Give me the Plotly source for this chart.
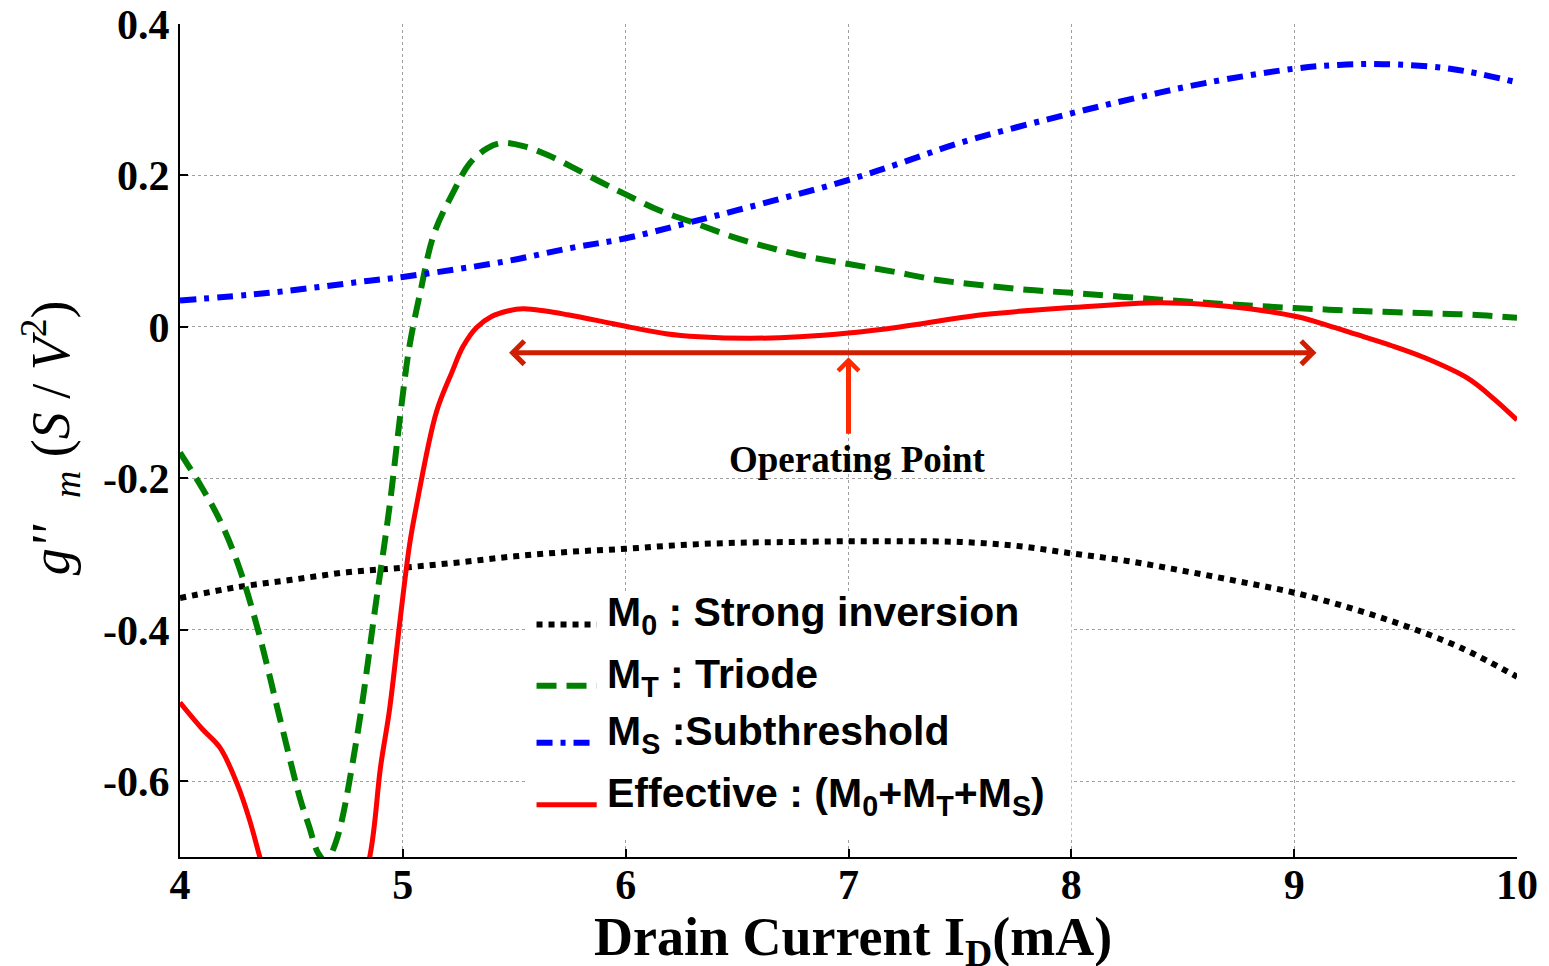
import plotly.graph_objects as go

# ---------------- data ----------------
m0_x = [4.0, 4.25, 4.5, 4.75, 5.0, 5.25, 5.5, 5.75, 6.0, 6.25, 6.5, 6.75, 7.0,
        7.25, 7.5, 7.75, 8.0, 8.25, 8.5, 8.75, 9.0, 9.25, 9.5, 9.75, 10.0]
m0_y = [-0.358, -0.344, -0.334, -0.324, -0.318, -0.311, -0.303, -0.297, -0.293,
        -0.288, -0.285, -0.284, -0.283, -0.283, -0.284, -0.289, -0.299, -0.309,
        -0.322, -0.336, -0.351, -0.371, -0.395, -0.424, -0.462]

mt_x = [4.0, 4.1, 4.18, 4.26, 4.35, 4.45, 4.54, 4.58, 4.62, 4.655, 4.70, 4.79,
        4.88, 4.94, 4.99, 5.03, 5.08, 5.14, 5.23, 5.30, 5.38, 5.45, 5.55, 5.65,
        5.76, 5.89, 6.0, 6.15, 6.33, 6.48, 6.63, 6.78, 7.0, 7.2, 7.4, 7.6, 7.8,
        8.0, 8.4, 8.7, 9.0, 9.3, 9.6, 9.8, 10.0]
mt_y = [-0.166, -0.213, -0.256, -0.313, -0.400, -0.519, -0.624, -0.660, -0.695,
        -0.705, -0.680, -0.549, -0.363, -0.238, -0.113, -0.025, 0.048, 0.123,
        0.180, 0.216, 0.236, 0.243, 0.238, 0.227, 0.211, 0.191, 0.175, 0.154,
        0.135, 0.119, 0.106, 0.095, 0.083, 0.073, 0.062, 0.055, 0.049, 0.045,
        0.036, 0.030, 0.025, 0.021, 0.018, 0.016, 0.012]

ms_x = [4.0, 4.4, 4.85, 5.0, 5.45, 5.75, 6.0, 6.3, 6.68, 7.0, 7.23, 7.5, 8.0,
        8.3, 8.6, 9.0, 9.2, 9.4, 9.7, 10.0]
ms_y = [0.035, 0.045, 0.061, 0.066, 0.086, 0.104, 0.117, 0.139, 0.168, 0.194,
        0.216, 0.243, 0.282, 0.303, 0.322, 0.341, 0.346, 0.347, 0.341, 0.323]

eff_x = [4.0, 4.1, 4.18, 4.26, 4.31, 4.36, 4.45, 4.6, 4.75, 4.85, 4.90, 4.94,
         4.99, 5.03, 5.06, 5.15, 5.22, 5.27, 5.33, 5.40, 5.47, 5.54, 5.64, 5.74,
         5.88, 6.03, 6.18, 6.33, 6.56, 6.78, 7.0, 7.23, 7.6, 8.02, 8.39, 8.59,
         8.8, 9.02, 9.15, 9.28, 9.43, 9.58, 9.78, 9.9, 10.0]
eff_y = [-0.496, -0.531, -0.556, -0.606, -0.649, -0.702, -0.80, -0.86, -0.80,
         -0.702, -0.581, -0.506, -0.381, -0.288, -0.238, -0.113, -0.060, -0.026,
         -0.001, 0.014, 0.021, 0.024, 0.021, 0.016, 0.008, -0.001, -0.009,
         -0.013, -0.015, -0.013, -0.008, 0.0, 0.016, 0.026, 0.032, 0.030, 0.024,
         0.013, 0.002, -0.010, -0.024, -0.040, -0.068, -0.096, -0.123]

x_ticks = [4, 5, 6, 7, 8, 9, 10]
x_ticktext = ["4", "5", "6", "7", "8", "9", "10"]
y_ticks = [-0.6, -0.4, -0.2, 0, 0.2, 0.4]
y_ticktext = ["-0.6", "-0.4", "-0.2", "0", "0.2", "0.4"]

legend_labels = [
    "M<sub>0</sub> : Strong inversion",
    "M<sub>T</sub> : Triode",
    "M<sub>S</sub> :Subthreshold",
    "Effective : (M<sub>0</sub>+M<sub>T</sub>+M<sub>S</sub>)",
]

# ---------------- styles ----------------
styles = [
    dict(color="black", width=6, dash="6px,6px"),
    dict(color="#008000", width=6, dash="20px,10px"),
    dict(color="#0000FF", width=6, dash="16px,8px,5px,8px"),
    dict(color="#FF0000", width=5, dash="solid"),
]

fig = go.Figure()
series = [(m0_x, m0_y), (mt_x, mt_y), (ms_x, ms_y), (eff_x, eff_y)]
for (xs, ys), st, name in zip(series, styles, legend_labels):
    fig.add_trace(go.Scatter(x=xs, y=ys, mode="lines", line=st, name=name,
                             showlegend=False, line_shape="spline"))

serif = "Liberation Serif"
sans = "Liberation Sans"

fig.update_layout(
    width=1549, height=966,
    margin=dict(l=180, r=32, t=24, b=109),
    paper_bgcolor="white", plot_bgcolor="white",
    showlegend=False,
)
common = dict(
    showline=True, linecolor="black", linewidth=2,
    ticks="inside", ticklen=8, tickcolor="black", tickwidth=2,
    showgrid=True, gridcolor="#a0a0a0", gridwidth=1, griddash="dot",
    zeroline=False, automargin=False,
    tickfont=dict(family=serif, size=42, color="black", weight="bold"),
)
fig.update_xaxes(range=[4, 10], tickvals=x_ticks, ticktext=x_ticktext,
                 ticklabelstandoff=-10, **common)
fig.update_yaxes(range=[-0.7, 0.4], tickvals=y_ticks, ticktext=y_ticktext, **common)

# axis titles
fig.add_annotation(
    xref="paper", yref="paper", x=0.5035, y=-0.1, yanchor="middle",
    text="Drain Current I<sub>D</sub>(mA)", showarrow=False,
    font=dict(family=serif, size=54, color="black", weight="bold"),
)
fig.add_annotation(
    xref="paper", yref="paper", x=-0.127, y=0.503, textangle=-90,
    text="<i>g''</i>  <sub><i>m</i></sub> (<i>S</i> / <i>V</i><sup>2</sup>)",
    showarrow=False, font=dict(family=serif, size=54, color="black"),
)

# operating point arrows
fig.add_annotation(
    xref="x", yref="y", axref="x", ayref="y",
    x=9.1, y=-0.034, ax=5.47, ay=-0.034, text="",
    showarrow=True, arrowside="end+start", arrowhead=4, startarrowhead=4,
    arrowwidth=5, arrowsize=0.9, startarrowsize=0.9, arrowcolor="#D01E00",
)
fig.add_annotation(
    xref="x", yref="y", axref="x", ayref="y",
    x=7.0, y=-0.040, ax=7.0, ay=-0.143, text="",
    showarrow=True, arrowhead=4, arrowwidth=5, arrowsize=0.8,
    arrowcolor="#FF2A00",
)
fig.add_annotation(
    xref="x", yref="y", x=7.04, y=-0.175, text="Operating Point",
    showarrow=False, font=dict(family=serif, size=37, color="black", weight="bold"),
)

# custom legend
fig.add_shape(type="rect", xref="x", yref="y", x0=5.55, x1=8.0, y0=-0.677, y1=-0.350,
              fillcolor="white", line=dict(width=0), layer="above")
row_y = [-0.393, -0.474, -0.549, -0.631]
for st, lab, ry in zip(styles, legend_labels, row_y):
    fig.add_shape(type="line", xref="x", yref="y", x0=5.60, x1=5.87, y0=ry, y1=ry,
                  line=dict(color=st["color"], width=st["width"], dash=st["dash"]),
                  layer="above")
    fig.add_annotation(
        xref="x", yref="y", x=5.905, y=ry + 0.012, xanchor="left", yanchor="middle",
        text=lab, showarrow=False,
        font=dict(family=sans, size=41, color="black", weight="bold"),
    )

fig.write_html("out.html")
